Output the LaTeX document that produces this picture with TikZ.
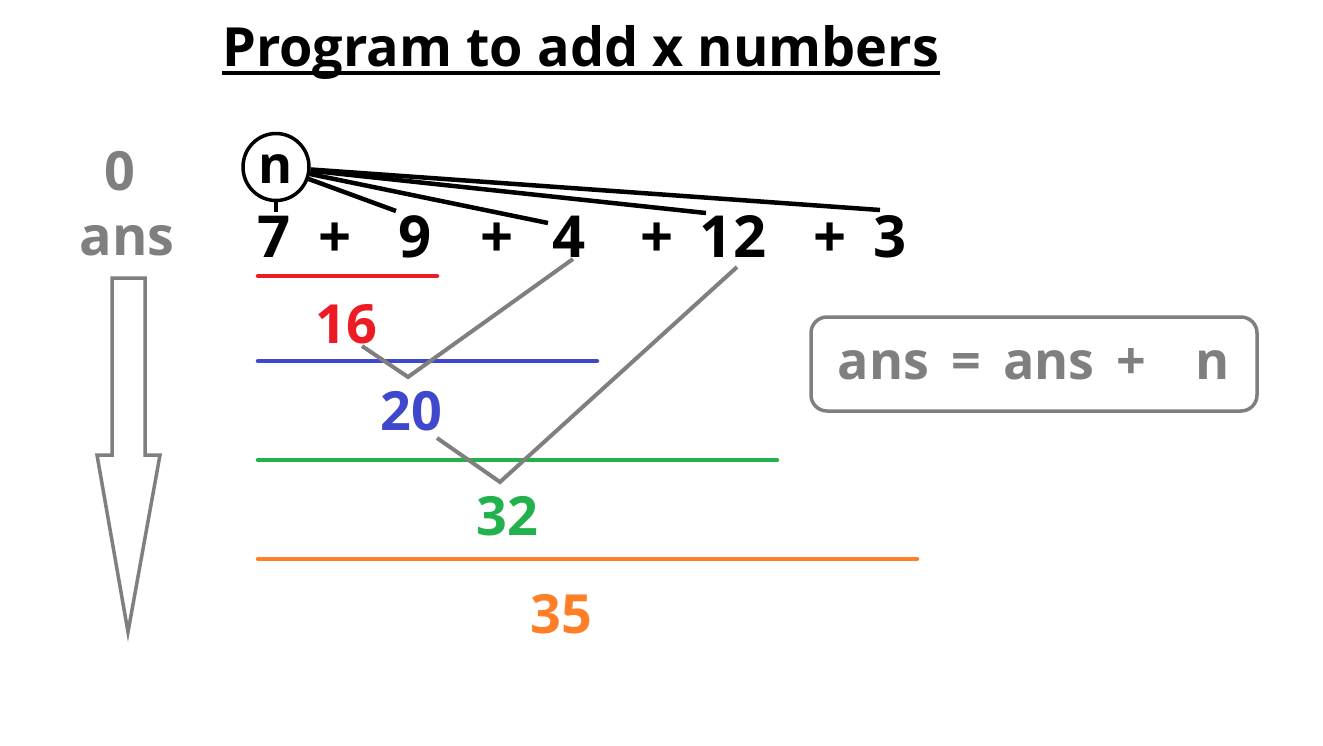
\documentclass[tikz,border=0pt]{standalone}
\usepackage{fontspec}
\usetikzlibrary{shapes.geometric}
\setmainfont{Open Sans}
\definecolor{pred}{RGB}{237,28,36}
\definecolor{pblue}{RGB}{63,72,204}
\definecolor{pgreen}{RGB}{34,177,76}
\definecolor{porange}{RGB}{255,127,39}
\definecolor{pgray}{RGB}{127,127,127}
\tikzset{
  num/.style={anchor=base,inner sep=0pt,font=\fontsize{58}{60}\selectfont\bfseries},
  res/.style={anchor=base,inner sep=0pt,font=\fontsize{54}{56}\selectfont\bfseries},
  gtxt/.style={anchor=base,inner sep=0pt,text=pgray,font=\fontsize{54}{56}\selectfont\bfseries},
  link/.style={line width=4.5pt,black},
  vline/.style={line width=4pt,pgray},
  bar/.style={line width=4.5pt,line cap=round}
}
\begin{document}
\begin{tikzpicture}[x=1pt,y=-1pt]
\useasboundingbox[fill=white] (0,0) rectangle (1323,745);
% title
\node[anchor=base west,inner sep=0pt,font=\fontsize{54}{56}\selectfont\bfseries] (title) at (222,66) {Program to add x numbers};
\draw[line width=4.5pt] (222,73) -- (940,73);
% left
\node[gtxt] (zero) at (120,190) {0};
\node[gtxt] (ans) at (127,255) {ans};
\draw[line width=3.5pt,pgray,line join=miter] (112,278) -- (145,278) -- (145,455) -- (160,455) -- (128,632) -- (97,455) -- (112,455) -- cycle;
% n circle
\node[draw,line width=3.5pt,ellipse,minimum width=66pt,minimum height=67pt,inner sep=0pt] (n) at (276,167) {};
\node[anchor=base,inner sep=0pt,font=\fontsize{52}{54}\selectfont\bfseries] (nl) at (276,183) {n};
% numbers
\node[num] (n7) at (274,257) {7};
\node[num] (p1) at (335,257) {+};
\node[num] (n9) at (415,257) {9};
\node[num] (p2) at (497,257) {+};
\node[num] (n4) at (569,257) {4};
\node[num] (p3) at (657,257) {+};
\node[num] (n12) at (733,257) {12};
\node[num] (p4) at (830,257) {+};
\node[num] (n3) at (890,257) {3};
\coordinate (c7) at (276,212);
\coordinate (c9) at (396,211);
\coordinate (c4) at (548,223);
\coordinate (c12) at (706,213);
\coordinate (c3) at (880,210);
\draw[link] (n) -- (c7);
\draw[link] (n) -- (c9);
\draw[link] (n) -- (c4);
\draw[link] (n) -- (c12);
\draw[link] (n) -- (c3);
% bars
\draw[bar,pred] (258,276) -- (437,276);
\draw[bar,pblue] (258,361) -- (597,361);
\draw[bar,pgreen] (258,460) -- (777,460);
\draw[bar,porange] (258,559) -- (917,559);
% results
\node[res,text=pred] (r16) at (346,343) {16};
\node[res,text=pblue] (r20) at (411,430) {20};
\node[res,text=pgreen] (r32) at (507,535) {32};
\node[res,text=porange] (r35) at (561,633) {35};
% V links
\coordinate (a1) at (362,346);
\coordinate (v1) at (408,377);
\coordinate (b1) at (573,259);
\coordinate (a2) at (437,438);
\coordinate (v2) at (500,482);
\coordinate (b2) at (737,267);
\draw[vline] (a1) -- (v1) -- (b1);
\draw[vline] (a2) -- (v2) -- (b2);
% formula box
\node[draw=pgray,line width=3.5pt,rounded corners=16pt,minimum width=446pt,minimum height=94pt,inner sep=0pt,text=pgray,font=\fontsize{52}{54}\selectfont\bfseries] (box) at (1034,364) {ans \,=\, ans \,+\, \ \ n};
\end{tikzpicture}
\end{document}
